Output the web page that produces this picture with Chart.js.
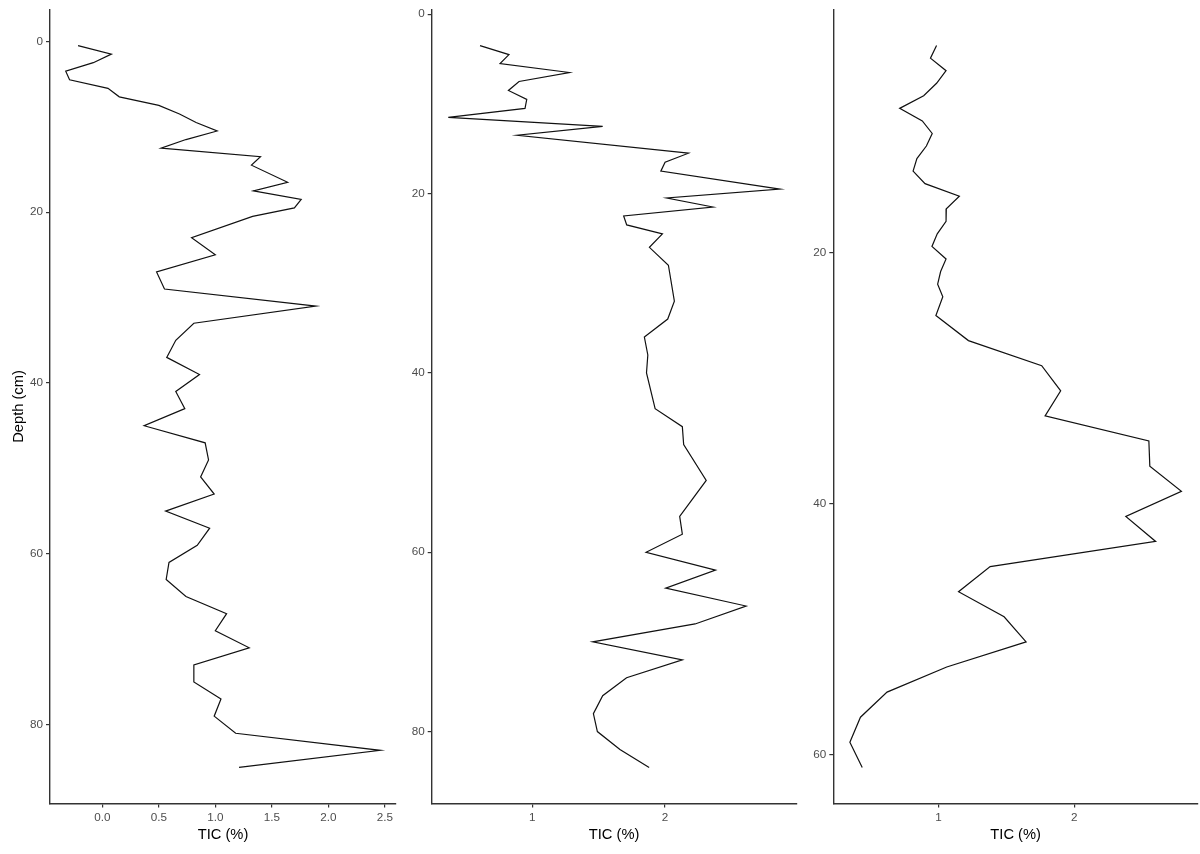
<!DOCTYPE html>
<html>
<head>
<meta charset="utf-8">
<title>TIC depth profiles</title>
<script src="https://cdn.jsdelivr.net/npm/chart.js@4.4.1/dist/chart.umd.min.js"></script>
<style>
  html, body { margin: 0; padding: 0; background: #fff; }
  #wrap { position: relative; width: 1200px; height: 854px; }
  #wrap canvas { position: absolute; top: 0; }
</style>
</head>
<body>
<div id="wrap">
  <canvas id="core1" width="400" height="854" style="left:0px;width:400px;height:854px"></canvas>
  <canvas id="core2" width="400" height="854" style="left:400px;width:400px;height:854px"></canvas>
  <canvas id="core3" width="400" height="854" style="left:800px;width:400px;height:854px"></canvas>
</div>
<script>
// Core 1
const depth1 = [0.5, 1.5, 2.5, 3.5, 4.5, 5.5, 6.5, 7.5, 8.5, 9.5, 10.5, 11.5, 12.5, 13.5, 14.5,
    16.5, 17.5, 18.5, 19.5, 20.5, 23, 25, 27, 29, 31, 33, 35, 37, 39, 41, 43, 45, 47, 49, 51,
    53, 55, 57, 59, 61, 63, 65, 67, 69, 71, 73, 75, 77, 79, 81, 83, 85];
const tic1 = [-0.215, 0.08, -0.08, -0.324, -0.29, 0.05, 0.15, 0.50, 0.683, 0.83, 1.016, 0.74, 0.52, 1.40, 1.32,
    1.64, 1.337, 1.76, 1.70, 1.33, 0.79, 1.0, 0.48, 0.55, 1.89, 0.81, 0.65, 0.57, 0.86, 0.65, 0.73, 0.37, 0.91, 0.94, 0.87,
    0.99, 0.56, 0.95, 0.84, 0.59, 0.565, 0.74, 1.10, 1.00, 1.30, 0.81, 0.81, 1.05, 0.99, 1.18, 2.46, 1.21];

// Core 2
const depth2 = [3.5, 4.5, 5.5, 6.5, 7.5, 8.5, 9.5, 10.5, 11.5, 12.5, 13.5, 15.5, 16.5, 17.5, 19.5, 20.5,
    21.5, 22.5, 23.5, 24.5, 26, 28, 32, 34, 36, 38, 40, 44, 46, 48, 52, 56, 58, 60, 62, 64, 66, 68,
    70, 72, 74, 76, 78, 80, 82, 84];
const tic2 = [0.606, 0.824, 0.757, 1.279, 0.90, 0.82, 0.958, 0.945, 0.367, 1.53, 0.887, 2.176, 2.0, 1.968, 2.865, 2.013,
    2.36, 1.688, 1.711, 1.98, 1.882, 2.025, 2.07, 2.02, 1.844, 1.87, 1.86, 1.925, 2.13, 2.14, 2.31, 2.11, 2.13, 1.857, 2.38, 2.005, 2.61, 2.226,
    1.455, 2.13, 1.71, 1.53, 1.46, 1.49, 1.66, 1.88];

// Core 3
const depth3 = [3.5, 4.5, 5.5, 6.5, 7.5, 8.5, 9.5, 10.5, 11.5, 12.5, 13.5, 14.5, 15.5, 16.5, 17.5, 18.5,
    19.5, 20.5, 21.5, 22.5, 23.5, 25, 27, 29, 31, 33, 35, 37, 39, 41, 43, 45, 47, 49, 51, 53, 55, 57, 59, 61];
const tic3 = [0.985, 0.94, 1.055, 0.985, 0.89, 0.713, 0.88, 0.953, 0.91, 0.84, 0.812, 0.90, 1.153, 1.057, 1.055, 0.99,
    0.951, 1.055, 1.015, 0.993, 1.031, 0.98, 1.22, 1.76, 1.90, 1.785, 2.55, 2.557, 2.79, 2.38, 2.60, 1.38, 1.147, 1.483, 1.645, 1.06, 0.62, 0.424, 0.346, 0.437];

// Tick labels
const xTicks1 = [0, 0.5, 1, 1.5, 2, 2.5];
const xTicks23 = [1, 2];
const yTicks12 = [0, 20, 40, 60, 80];
const yTicks3 = [20, 40, 60];

const xTitle = 'TIC (%)';
const yTitle = 'Depth (cm)';

const FONT = '"Liberation Sans", Arial, sans-serif';
const AXIS_COL = '#333333';
const TICK_LABEL_COL = '#4d4d4d';

// ggplot-style 5% expansion of the data range
function expand(vals) {
    const lo = Math.min(...vals);
    const hi = Math.max(...vals);
    const pad = (hi - lo) * 0.05;
    return [lo - pad, hi + pad];
}

function makePanel(id, depth, tic, xTicks, yTicks, xDecimals, yAxisWidth, padRight, showYTitle) {
    const ctx = document.getElementById(id).getContext('2d');
    const points = depth.map((d, i) => ({ x: tic[i], y: d }));
    const [xMin, xMax] = expand(tic);
    const [yMin, yMax] = expand(depth);

    return new Chart(ctx, {
        type: 'scatter',
        data: {
            datasets: [{
                data: points,
                showLine: true,
                borderColor: '#111111',
                borderWidth: 1.2,
                pointRadius: 0,
                tension: 0
            }]
        },
        options: {
            responsive: false,
            animation: false,
            devicePixelRatio: 1,
            layout: { padding: { top: 9.5, right: padRight, bottom: 0, left: 0 } },
            plugins: {
                legend: { display: false },
                tooltip: { enabled: false }
            },
            scales: {
                x: {
                    type: 'linear',
                    position: 'bottom',
                    min: xMin,
                    max: xMax,
                    afterBuildTicks: axis => { axis.ticks = xTicks.map(v => ({ value: v })); },
                    afterFit: axis => {
                        axis.height = 50.5;
                        axis.paddingLeft = 0;
                        axis.paddingRight = 0;
                    },
                    border: { display: true, color: AXIS_COL, width: 1.4 },
                    grid: { display: true, drawOnChartArea: false, drawTicks: true, tickLength: 4, color: AXIS_COL, lineWidth: 1.2 },
                    ticks: {
                        padding: 3,
                        color: TICK_LABEL_COL,
                        font: { family: FONT, size: 11.7 },
                        maxRotation: 0,
                        callback: v => Number(v).toFixed(xDecimals)
                    },
                    title: {
                        display: true,
                        text: xTitle,
                        color: '#000000',
                        font: { family: FONT, size: 14.7 },
                        padding: { top: 4, bottom: 10 }
                    }
                },
                y: {
                    type: 'linear',
                    position: 'left',
                    reverse: true,
                    min: yMin,
                    max: yMax,
                    afterBuildTicks: axis => { axis.ticks = yTicks.map(v => ({ value: v })); },
                    afterFit: axis => {
                        axis.width = yAxisWidth;
                        axis.paddingTop = 0;
                        axis.paddingBottom = 0;
                    },
                    border: { display: true, color: AXIS_COL, width: 1.4 },
                    grid: { display: true, drawOnChartArea: false, drawTicks: true, tickLength: 4, color: AXIS_COL, lineWidth: 1.2 },
                    ticks: {
                        padding: 3,
                        color: TICK_LABEL_COL,
                        font: { family: FONT, size: 11.7 },
                        callback: v => String(v)
                    },
                    title: {
                        display: showYTitle,
                        text: yTitle,
                        color: '#000000',
                        font: { family: FONT, size: 14.7 },
                        padding: { top: 10, bottom: 0 }
                    }
                }
            }
        }
    });
}

makePanel('core1', depth1, tic1, xTicks1, yTicks12, 1, 50, 4, true);
makePanel('core2', depth2, tic2, xTicks23, yTicks12, 0, 31.7, 3.5, false);
makePanel('core3', depth3, tic3, xTicks23, yTicks3, 0, 33.3, 2, false);
</script>
</body>
</html>
